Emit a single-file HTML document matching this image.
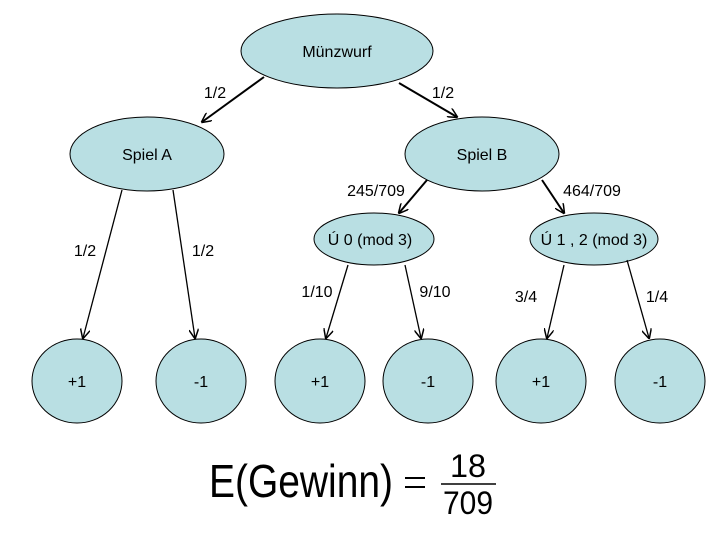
<!DOCTYPE html>
<html><head><meta charset="utf-8"><style>body{margin:0;background:#fff}svg{display:block}</style></head><body>
<svg width="720" height="540" viewBox="0 0 720 540" xmlns="http://www.w3.org/2000/svg" font-family="Liberation Sans, sans-serif">
<defs><marker id="a" markerWidth="10" markerHeight="10" refX="9" refY="5" orient="auto" markerUnits="userSpaceOnUse"><path d="M0,0 L10,5 L0,10" fill="none" stroke="#000" stroke-width="1.5"/></marker></defs>
<g fill="#b9dfe3" stroke="#000" stroke-width="1">
<ellipse cx="337" cy="51" rx="96" ry="37"/>
<ellipse cx="147" cy="154" rx="77" ry="37"/>
<ellipse cx="482" cy="154" rx="77" ry="37"/>
<ellipse cx="374" cy="239" rx="60" ry="26"/>
<ellipse cx="594" cy="239" rx="64" ry="26"/>
<ellipse cx="77" cy="381" rx="45" ry="42"/>
<ellipse cx="201" cy="381" rx="45" ry="42"/>
<ellipse cx="320" cy="381" rx="45" ry="42"/>
<ellipse cx="428" cy="381" rx="45" ry="42"/>
<ellipse cx="541" cy="381" rx="45" ry="42"/>
<ellipse cx="660" cy="381" rx="45" ry="42"/>
</g>
<g stroke="#000" stroke-width="2" marker-end="url(#a)">
<line x1="264" y1="77" x2="202" y2="122"/>
<line x1="399" y1="83" x2="457" y2="117"/>
<line x1="427" y1="180" x2="399" y2="213"/>
<line x1="542" y1="180" x2="564" y2="213"/>
</g>
<g stroke="#000" stroke-width="1.3" marker-end="url(#a)">
<line x1="122" y1="190" x2="83" y2="338"/>
<line x1="173" y1="190" x2="195" y2="338"/>
<line x1="348" y1="265" x2="326" y2="338"/>
<line x1="405" y1="265" x2="421" y2="338"/>
<line x1="564" y1="265" x2="547" y2="338"/>
<line x1="627" y1="260" x2="649" y2="338"/>
</g>
<g font-size="16" text-anchor="middle" fill="#000">
<text x="337" y="57">Münzwurf</text>
<text x="147" y="160">Spiel A</text>
<text x="482" y="160">Spiel B</text>
<text x="370" y="245">Ú 0 (mod 3)</text>
<text x="594" y="245">Ú 1 , 2 (mod 3)</text>
<text x="77" y="387">+1</text><text x="201" y="387">-1</text>
<text x="320" y="387">+1</text><text x="428" y="387">-1</text>
<text x="541" y="387">+1</text><text x="660" y="387">-1</text>
<text x="215" y="98">1/2</text><text x="443" y="98">1/2</text>
<text x="376" y="196">245/709</text><text x="592" y="196">464/709</text>
<text x="85" y="256">1/2</text><text x="203" y="256">1/2</text>
<text x="317" y="297">1/10</text><text x="435" y="297">9/10</text>
<text x="526" y="302">3/4</text><text x="657" y="302">1/4</text>
</g>
<text x="209" y="497" font-size="46" textLength="184" lengthAdjust="spacingAndGlyphs">E(Gewinn)</text>
<line x1="405" y1="478" x2="425" y2="478" stroke="#000" stroke-width="2"/>
<line x1="405" y1="487" x2="425" y2="487" stroke="#000" stroke-width="2"/>
<text x="468" y="477" font-size="32" text-anchor="middle" textLength="36" lengthAdjust="spacingAndGlyphs">18</text>
<line x1="441" y1="484" x2="496" y2="484" stroke="#000" stroke-width="1.5"/>
<text x="468" y="514" font-size="32" text-anchor="middle" textLength="50" lengthAdjust="spacingAndGlyphs">709</text>
</svg>
</body></html>
